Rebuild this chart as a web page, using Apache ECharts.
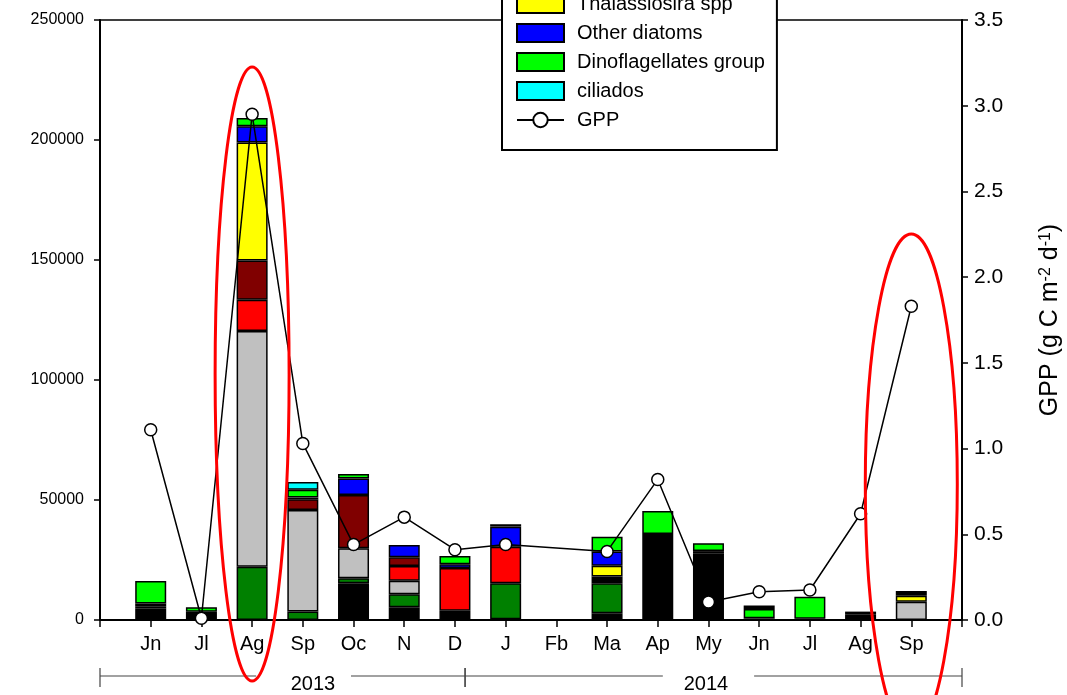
<!DOCTYPE html>
<html>
<head>
<meta charset="utf-8">
<script src="https://cdn.jsdelivr.net/npm/echarts@6/dist/echarts.min.js"></script>
<style>
  html, body { margin: 0; padding: 0; background: #fff; }
  #chart { width: 1067px; height: 695px; }
</style>
</head>
<body>
<div id="chart"></div>
<script>
// Month labels, June 2013 to September 2014
const months = ['Jn', 'Jl', 'Ag', 'Sp', 'Oc', 'N', 'D', 'J', 'Fb', 'Ma', 'Ap', 'My', 'Jn', 'Jl', 'Ag', 'Sp'];

// Phytoplankton abundance by group (cells L-1), stacked from bottom to top
const chaetoceros     = [4700, 3400, 0, 0, 15300, 5300, 3900, 300, 0, 2800, 35800, 27800, 700, 500, 2400, 0];
const pseudoNitzschia = [800, 0, 22200, 3500, 2100, 5400, 0, 15000, 0, 12500, 0, 0, 0, 0, 0, 0];
const skeletonema     = [1400, 0, 0, 0, 0, 0, 0, 0, 0, 2800, 0, 0, 0, 0, 0, 0];
const leptocylindrus  = [0, 0, 98200, 42300, 12500, 5700, 0, 0, 0, 0, 0, 0, 0, 0, 0, 7600];
const guinardia       = [0, 0, 13000, 0, 0, 6100, 17800, 15200, 0, 0, 0, 0, 0, 0, 0, 0];
const detonula        = [0, 0, 16400, 4500, 22200, 3600, 0, 0, 0, 0, 0, 900, 0, 0, 0, 0];
const thalassiosira   = [0, 0, 49200, 700, 0, 0, 0, 0, 0, 4500, 0, 0, 0, 0, 0, 2500];
const otherDiatoms    = [0, 0, 6700, 0, 6900, 5100, 1500, 8400, 0, 5900, 0, 0, 0, 0, 0, 0];
const dinoflagellates = [9300, 1900, 3500, 3300, 1800, 0, 3500, 1000, 0, 6200, 9600, 3300, 3900, 9200, 1100, 0];
const ciliados        = [0, 0, 0, 3200, 0, 0, 0, 0, 0, 0, 0, 0, 0, 0, 0, 0];
const flagelados      = [0, 0, 0, 0, 0, 0, 0, 0, 0, 0, 0, 0, 1400, 0, 0, 2000];

// Gross primary production (g C m-2 d-1); no sample in February
const gpp = [1.11, 0.01, 2.95, 1.03, 0.44, 0.60, 0.41, 0.44, null, 0.40, 0.82, 0.105, 0.165, 0.175, 0.62, 1.83];

// Axis ticks
const leftTicks = { min: 0, max: 250000, interval: 50000 };
const rightTicks = { min: 0, max: 3.5, interval: 0.5 };

// Year spans along the month axis (positions in month slots, -1 = axis start)
const years = [
  { label: '2013', from: -1, to: 6.2, gapFrom: 2.08, gapTo: 3.95, at: 3.2 },
  { label: '2014', from: 6.2, to: 16, gapFrom: 10.1, gapTo: 11.9, at: 10.95 }
];
// Months highlighted with an ellipse
const highlighted = [2, 15];

// The month axis has an empty slot at each end
const slots = [''].concat(months, ['']);
const padded = arr => [null].concat(arr.map(v => (v === 0 ? null : v)), [null]);

const FONT = '"Liberation Sans", Arial, sans-serif';

const groups = [
  { name: 'Chaetoceros spp', data: chaetoceros, color: '#000000' },
  { name: 'Pseudo-nitzschia spp', data: pseudoNitzschia, color: '#008000' },
  { name: 'Skeletonema spp', data: skeletonema, color: '#000000' },
  { name: 'Leptocylindrus spp', data: leptocylindrus, color: '#c0c0c0' },
  { name: 'Guinardia spp', data: guinardia, color: '#ff0000' },
  { name: 'Detonula spp', data: detonula, color: '#800000' },
  { name: 'Thalassiosira spp', data: thalassiosira, color: '#ffff00' },
  { name: 'Other diatoms', data: otherDiatoms, color: '#0000ff' },
  { name: 'Dinoflagellates group', data: dinoflagellates, color: '#00ff00' },
  { name: 'ciliados', data: ciliados, color: '#00ffff' },
  { name: 'Flagelados', data: flagelados, color: '#000000' }
];

const barSeries = groups.map(g => ({
  name: g.name,
  type: 'bar',
  stack: 'cells',
  barWidth: 31,
  xAxisIndex: 0,
  yAxisIndex: 0,
  itemStyle: { color: g.color, borderColor: '#000', borderWidth: 1.5 },
  data: padded(g.data)
}));

const chart = echarts.init(document.getElementById('chart'), null, { renderer: 'canvas' });

chart.setOption({
  animation: false,
  backgroundColor: '#fff',
  textStyle: { fontFamily: FONT, color: '#000' },
  grid: {
    left: 100, right: 105, top: 20, bottom: 75,
    outerBoundsMode: 'none', containLabel: false,
    show: true, borderColor: '#000', borderWidth: 1.5, backgroundColor: 'transparent'
  },
  legend: {
    orient: 'vertical',
    left: 502,
    top: -14,
    padding: [8, 12, 20, 14],
    itemWidth: 47,
    itemHeight: 18,
    itemGap: 9,
    backgroundColor: '#fff',
    borderColor: '#000',
    borderWidth: 2,
    z: 10,
    textStyle: { fontFamily: FONT, fontSize: 20, color: '#000', padding: [0, 0, 0, 8] },
    data: [
      { name: 'Thalassiosira spp', icon: 'rect' },
      { name: 'Other diatoms', icon: 'rect' },
      { name: 'Dinoflagellates group', icon: 'rect' },
      { name: 'ciliados', icon: 'rect' },
      { name: 'GPP' }
    ]
  },
  xAxis: {
    type: 'category',
    data: slots,
    boundaryGap: false,
    axisLine: { lineStyle: { color: '#000', width: 2 } },
    axisTick: { inside: false, length: 7, interval: 0, lineStyle: { color: '#000', width: 1.5 } },
    splitLine: { show: false },
    axisLabel: { fontFamily: FONT, fontSize: 20, color: '#000', margin: 14, interval: 0 }
  },
  yAxis: [
    {
      type: 'value',
      position: 'left',
      min: leftTicks.min, max: leftTicks.max, interval: leftTicks.interval,
      axisLine: { show: true, lineStyle: { color: '#000', width: 2 } },
      axisTick: { show: true, inside: false, length: 6, lineStyle: { color: '#000', width: 1.5 } },
      splitLine: { show: false },
      axisLabel: { fontFamily: FONT, fontSize: 16, color: '#000', margin: 16, formatter: v => String(v) }
    },
    {
      type: 'value',
      position: 'right',
      min: rightTicks.min, max: rightTicks.max, interval: rightTicks.interval,
      axisLine: { show: true, lineStyle: { color: '#000', width: 2 } },
      axisTick: { show: true, inside: false, length: 6, lineStyle: { color: '#000', width: 1.5 } },
      splitLine: { show: false },
      axisLabel: { fontFamily: FONT, fontSize: 21, color: '#000', margin: 12, formatter: v => v.toFixed(1) },
      name: 'GPP (g C m{sup|-2} d{sup|-1})',
      nameLocation: 'middle',
      nameRotate: 90,
      nameGap: 76,
      nameTextStyle: {
        fontFamily: FONT, fontSize: 25, color: '#000',
        rich: { sup: { fontSize: 16, verticalAlign: 'top', fontFamily: FONT, color: '#000' } }
      }
    }
  ],
  series: barSeries.concat([{
    name: 'GPP',
    type: 'line',
    xAxisIndex: 0,
    yAxisIndex: 1,
    connectNulls: true,
    z: 5,
    symbol: 'circle',
    symbolSize: 12,
    showAllSymbol: true,
    lineStyle: { color: '#000', width: 1.5 },
    itemStyle: { color: '#fff', borderColor: '#000', borderWidth: 1.5 },
    data: [null].concat(gpp, [null])
  }])
});

// Year brackets under the month labels and the highlight ellipses
function px(slot) {
  // slot -1 is the axis start; fractional slots fall between months
  const i0 = Math.floor(slot) + 1;
  const a = chart.convertToPixel({ xAxisIndex: 0 }, i0);
  const b = chart.convertToPixel({ xAxisIndex: 0 }, Math.min(i0 + 1, slots.length - 1));
  return a + (b - a) * (slot + 1 - i0);
}
const graphics = [];
const yearY = 676;
const lineStyle = { stroke: '#444', lineWidth: 1.2 };
years.forEach(y => {
  const a = px(y.from), b = px(y.to), g0 = px(y.gapFrom), g1 = px(y.gapTo);
  graphics.push({ type: 'line', shape: { x1: a, y1: yearY, x2: g0, y2: yearY }, style: lineStyle, silent: true });
  graphics.push({ type: 'line', shape: { x1: g1, y1: yearY, x2: b, y2: yearY }, style: lineStyle, silent: true });
  graphics.push({ type: 'line', shape: { x1: a, y1: 668, x2: a, y2: 687 }, style: lineStyle, silent: true });
  graphics.push({ type: 'line', shape: { x1: b, y1: 668, x2: b, y2: 687 }, style: lineStyle, silent: true });
  graphics.push({
    type: 'text', x: px(y.at), y: 684,
    style: { text: y.label, fill: '#000', font: '20px "Liberation Sans", Arial, sans-serif', textAlign: 'center', textVerticalAlign: 'middle' },
    silent: true
  });
});
const ellipseShapes = [
  { cy: 374, rx: 37, ry: 307 },
  { cy: 484, rx: 46, ry: 250 }
];
highlighted.forEach((m, k) => {
  graphics.push({
    type: 'ellipse', z: 100,
    shape: { cx: px(m), cy: ellipseShapes[k].cy, rx: ellipseShapes[k].rx, ry: ellipseShapes[k].ry },
    style: { fill: 'none', stroke: '#ff0000', lineWidth: 3 },
    silent: true
  });
});
chart.setOption({ graphic: graphics });
</script>
</body>
</html>
